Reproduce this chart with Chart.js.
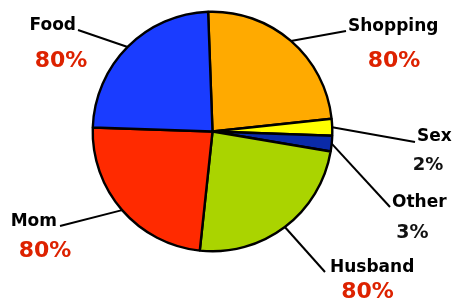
<!DOCTYPE html>
<html>
<head>
<meta charset="utf-8">
<script src="https://cdn.jsdelivr.net/npm/chart.js@4/dist/chart.umd.min.js"></script>
<style>
  html, body { margin: 0; padding: 0; background: #ffffff; }
  #wrap { width: 453px; height: 299px; }
</style>
</head>
<body>
<div id="wrap"><canvas id="c" width="453" height="299"></canvas></div>
<script>
// ---- data (clockwise from the top) ----
const categories = ["Shopping", "Sex", "Other", "Husband", "Mom", "Food"];
const sliceValues = [86, 8.1, 7.6, 86.5, 85.8, 86];
const percentLabels = ["80%", "2%", "3%", "80%", "80%", "80%"];

// ---- styling / layout (not data) ----
const sliceColors = ["#ffaa00", "#ffff00", "#0a2aa8", "#aad400", "#ff2a00", "#1a3cff"];
const percentColors = ["#dd2200", "#111111", "#111111", "#dd2200", "#dd2200", "#dd2200"];
// elbow point of each leader line, and text placement relative to it
const labelLayout = [
  { ex: 346, ey: 31,  nameAlign: "left",  nx: 348, ny: 31,  px: 394,   py: 67,  pSize: 22 },
  { ex: 415, ey: 142, nameAlign: "left",  nx: 417, ny: 141, px: 428,   py: 170, pSize: 18 },
  { ex: 390, ey: 207, nameAlign: "left",  nx: 392, ny: 207, px: 412.5, py: 238, pSize: 19 },
  { ex: 325, ey: 272, nameAlign: "left",  nx: 330, ny: 272, px: 367.5, py: 298, pSize: 22 },
  { ex: 60,  ey: 226, nameAlign: "right", nx: 57,  ny: 226, px: 45,    py: 257, pSize: 22 },
  { ex: 78,  ey: 30,  nameAlign: "right", nx: 76,  ny: 30,  px: 61,    py: 67,  pSize: 22 }
];

const calloutPlugin = {
  id: "callouts",
  afterDatasetsDraw(chart) {
    const ctx = chart.ctx;
    const meta = chart.getDatasetMeta(0);
    ctx.save();
    meta.data.forEach((arc, i) => {
      const p = arc.getProps(["x", "y", "startAngle", "endAngle", "outerRadius"], true);
      const mid = (p.startAngle + p.endAngle) / 2;
      const sx = p.x + Math.cos(mid) * p.outerRadius;
      const sy = p.y + Math.sin(mid) * p.outerRadius;
      const L = labelLayout[i];
      ctx.strokeStyle = "#000000";
      ctx.lineWidth = 2;
      ctx.beginPath();
      ctx.moveTo(sx, sy);
      ctx.lineTo(L.ex, L.ey);
      ctx.stroke();

      ctx.textBaseline = "alphabetic";
      ctx.fillStyle = "#000000";
      ctx.font = "bold 17px 'DejaVu Sans', Verdana, sans-serif";
      ctx.textAlign = L.nameAlign;
      ctx.fillText(categories[i], L.nx, L.ny);

      ctx.fillStyle = percentColors[i];
      ctx.font = "bold " + L.pSize + "px 'DejaVu Sans', Verdana, sans-serif";
      ctx.textAlign = "center";
      ctx.fillText(percentLabels[i], L.px, L.py);
    });
    ctx.restore();
  }
};

new Chart(document.getElementById("c"), {
  type: "pie",
  data: {
    labels: categories,
    datasets: [{
      data: sliceValues,
      backgroundColor: sliceColors,
      borderColor: "#000000",
      borderWidth: 2.4,
      hoverOffset: 0
    }]
  },
  options: {
    responsive: false,
    animation: false,
    rotation: -2.1,
    layout: { padding: { left: 91.5, right: 119.5, top: 10.5, bottom: 46.5 } },
    plugins: { legend: { display: false }, tooltip: { enabled: false } },
    events: []
  },
  plugins: [calloutPlugin]
});
</script>
</body>
</html>
